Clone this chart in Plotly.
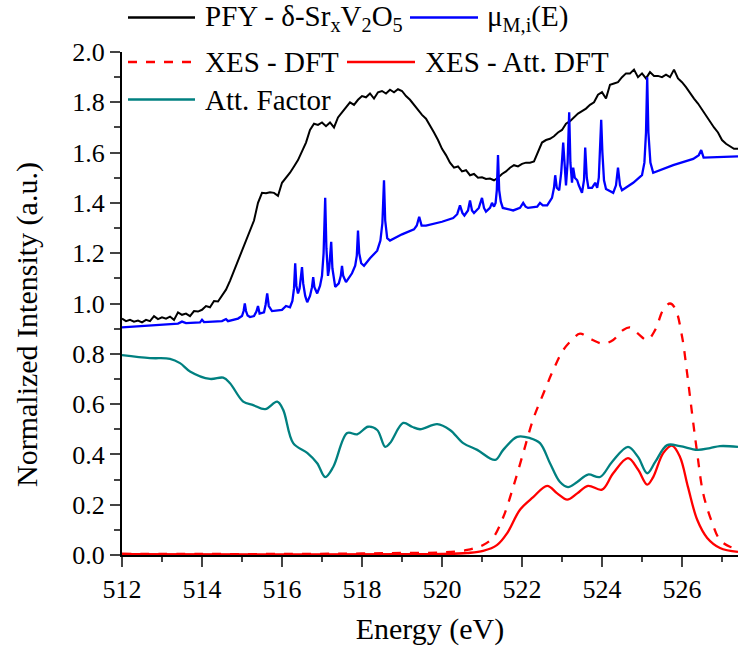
import plotly.graph_objects as go

# ---------------- data ----------------
pfy_e = [512.0, 512.1, 512.2, 512.3, 512.4, 512.5, 512.6, 512.7, 512.8, 512.9,
         513.0, 513.1, 513.2, 513.3, 513.4, 513.5, 513.6, 513.7, 513.8, 513.9,
         514.0, 514.1, 514.2, 514.3, 514.4, 514.5, 514.6, 514.7, 514.8, 514.9,
         515.0, 515.1, 515.2, 515.3, 515.4, 515.5, 515.6, 515.7, 515.8, 515.9,
         516.0, 516.1, 516.2, 516.3, 516.4, 516.5, 516.6, 516.7, 516.8, 516.9,
         517.0, 517.1, 517.2, 517.3, 517.4, 517.5, 517.6, 517.7, 517.8, 517.9,
         518.0, 518.1, 518.2, 518.3, 518.4, 518.5, 518.6, 518.7, 518.8, 518.9,
         519.0, 519.1, 519.2, 519.3, 519.4, 519.5, 519.6, 519.7, 519.8, 519.9,
         520.0, 520.1, 520.2, 520.3, 520.4, 520.5, 520.6, 520.7, 520.8, 520.9,
         521.0, 521.1, 521.2, 521.3, 521.4, 521.5, 521.6, 521.7, 521.8, 521.9,
         522.0, 522.1, 522.2, 522.3, 522.4, 522.5, 522.6, 522.7, 522.8, 522.9,
         523.0, 523.1, 523.2, 523.3, 523.4, 523.5, 523.6, 523.7, 523.8, 523.9,
         524.0, 524.1, 524.2, 524.3, 524.4, 524.5, 524.6, 524.7, 524.8, 524.9,
         525.0, 525.1, 525.2, 525.3, 525.4, 525.5, 525.6, 525.7, 525.8, 525.9,
         526.0, 526.1, 526.2, 526.3, 526.4, 526.5, 526.6, 526.7, 526.8, 526.9,
         527.0, 527.1, 527.2, 527.3, 527.4]
pfy_y = [0.940, 0.930, 0.935, 0.928, 0.932, 0.925, 0.935, 0.930, 0.950, 0.938,
         0.945, 0.940, 0.948, 0.935, 0.965, 0.955, 0.960, 0.950, 0.970, 0.968,
         0.975, 0.990, 0.985, 1.010, 1.008, 1.030, 1.055, 1.090, 1.130, 1.170,
         1.210, 1.250, 1.285, 1.330, 1.400, 1.440, 1.438, 1.442, 1.440, 1.428,
         1.480, 1.500, 1.520, 1.545, 1.570, 1.605, 1.640, 1.690, 1.715, 1.710,
         1.720, 1.705, 1.720, 1.700, 1.740, 1.760, 1.780, 1.800, 1.790, 1.810,
         1.825, 1.820, 1.835, 1.815, 1.840, 1.845, 1.835, 1.850, 1.840, 1.852,
         1.845, 1.825, 1.810, 1.790, 1.770, 1.750, 1.735, 1.710, 1.680, 1.650,
         1.615, 1.590, 1.560, 1.540, 1.545, 1.525, 1.530, 1.510, 1.515, 1.500,
         1.502, 1.495, 1.497, 1.490, 1.500, 1.515, 1.525, 1.540, 1.550, 1.545,
         1.555, 1.560, 1.560, 1.565, 1.600, 1.640, 1.650, 1.655, 1.665, 1.680,
         1.690, 1.715, 1.725, 1.740, 1.755, 1.765, 1.775, 1.790, 1.800, 1.830,
         1.840, 1.815, 1.870, 1.875, 1.880, 1.900, 1.915, 1.915, 1.930, 1.900,
         1.915, 1.895, 1.920, 1.905, 1.905, 1.900, 1.910, 1.900, 1.930, 1.895,
         1.880, 1.860, 1.835, 1.815, 1.795, 1.770, 1.745, 1.725, 1.700, 1.680,
         1.650, 1.635, 1.625, 1.615, 1.615]

mu_e = [512.00, 512.50, 513.00, 513.40, 513.50, 513.60, 513.95, 514.00, 514.05, 514.50,
        514.60, 514.65, 514.90, 515.00, 515.04, 515.07, 515.10, 515.14, 515.20, 515.30,
        515.36, 515.40, 515.44, 515.55, 515.59, 515.63, 515.67, 515.75, 516.00, 516.10,
        516.20, 516.26, 516.30, 516.33, 516.36, 516.40, 516.44, 516.47, 516.50, 516.53,
        516.58, 516.63, 516.70, 516.75, 516.78, 516.81, 516.88, 516.95, 517.00, 517.04,
        517.08, 517.11, 517.15, 517.18, 517.23, 517.26, 517.33, 517.42, 517.47, 517.50,
        517.53, 517.60, 517.75, 517.83, 517.87, 517.90, 517.93, 517.98, 518.05, 518.20,
        518.38, 518.46, 518.51, 518.55, 518.58, 518.63, 518.70, 519.00, 519.30, 519.37,
        519.43, 519.49, 519.60, 520.00, 520.28, 520.38, 520.45, 520.51, 520.56, 520.65,
        520.70, 520.75, 520.80, 520.92, 521.00, 521.05, 521.10, 521.20, 521.25, 521.30,
        521.34, 521.37, 521.40, 521.43, 521.47, 521.52, 521.78, 521.95, 522.03, 522.09,
        522.15, 522.38, 522.45, 522.52, 522.63, 522.75, 522.80, 522.83, 522.87, 522.93,
        522.98, 523.03, 523.07, 523.10, 523.14, 523.18, 523.21, 523.25, 523.28, 523.32,
        523.38, 523.42, 523.50, 523.55, 523.58, 523.62, 523.66, 523.75, 523.83, 523.88,
        523.92, 523.95, 523.98, 524.01, 524.05, 524.10, 524.28, 524.35, 524.40, 524.45,
        524.50, 524.78, 525.00, 525.06, 525.10, 525.13, 525.16, 525.21, 525.28, 525.78,
        526.28, 526.42, 526.48, 526.54, 527.00, 527.40]
mu_y = [0.905, 0.910, 0.915, 0.920, 0.928, 0.922, 0.925, 0.935, 0.926, 0.930,
        0.938, 0.930, 0.940, 0.950, 0.970, 1.000, 0.970, 0.952, 0.946, 0.950,
        0.968, 0.990, 0.960, 0.965, 0.995, 1.040, 0.990, 0.970, 0.975, 0.990,
        0.985, 1.010, 1.060, 1.160, 1.070, 1.040, 1.060, 1.095, 1.145, 1.080,
        1.030, 1.005, 1.030, 1.065, 1.105, 1.065, 1.040, 1.070, 1.110, 1.200,
        1.420, 1.220, 1.110, 1.140, 1.245, 1.140, 1.066, 1.080, 1.110, 1.150,
        1.110, 1.085, 1.120, 1.150, 1.190, 1.290, 1.200, 1.160, 1.150, 1.180,
        1.210, 1.250, 1.320, 1.490, 1.330, 1.260, 1.250, 1.275, 1.295, 1.310,
        1.345, 1.310, 1.310, 1.325, 1.340, 1.355, 1.390, 1.360, 1.350, 1.370,
        1.410, 1.370, 1.360, 1.380, 1.420, 1.380, 1.365, 1.380, 1.400, 1.385,
        1.400, 1.450, 1.590, 1.450, 1.405, 1.380, 1.370, 1.380, 1.400, 1.385,
        1.380, 1.385, 1.400, 1.390, 1.390, 1.420, 1.460, 1.510, 1.460, 1.450,
        1.520, 1.640, 1.520, 1.470, 1.560, 1.760, 1.560, 1.480, 1.540, 1.500,
        1.490, 1.470, 1.440, 1.490, 1.620, 1.500, 1.460, 1.460, 1.480, 1.460,
        1.500, 1.600, 1.730, 1.600, 1.490, 1.455, 1.440, 1.470, 1.540, 1.470,
        1.450, 1.480, 1.510, 1.560, 1.680, 1.900, 1.680, 1.560, 1.520, 1.550,
        1.575, 1.590, 1.610, 1.580, 1.582, 1.585]

xes_e = [512.0, 514.0, 516.0, 518.0, 519.0, 520.0, 520.63, 521.03, 521.28, 521.53,
         521.78, 522.03, 522.28, 522.53, 522.78, 523.03, 523.28, 523.45, 523.7, 524.03,
         524.28, 524.53, 524.7, 524.9, 525.13, 525.33, 525.53, 525.7, 525.83, 526.0,
         526.13, 526.25, 526.38, 526.53, 526.75, 526.95, 527.2, 527.4]
xes_y = [0.005, 0.004, 0.004, 0.006, 0.008, 0.010, 0.020, 0.040, 0.070, 0.150,
         0.270, 0.405, 0.540, 0.640, 0.735, 0.815, 0.860, 0.880, 0.860, 0.840,
         0.855, 0.895, 0.905, 0.880, 0.855, 0.895, 0.975, 1.000, 0.980, 0.870,
         0.720, 0.565, 0.405, 0.245, 0.130, 0.060, 0.033, 0.028]

att_xes_e = [512.0, 516.0, 519.0, 520.0, 520.63, 521.03, 521.38, 521.63, 521.95, 522.28,
             522.63, 522.88, 523.13, 523.38, 523.65, 524.0, 524.28, 524.65, 524.9, 525.13,
             525.28, 525.53, 525.75, 525.95, 526.15, 526.38, 526.63, 526.95, 527.4]
att_xes_y = [0.003, 0.002, 0.003, 0.004, 0.008, 0.016, 0.040, 0.087, 0.180, 0.230,
             0.275, 0.245, 0.220, 0.245, 0.275, 0.260, 0.325, 0.385, 0.340, 0.280,
             0.310, 0.405, 0.435, 0.390, 0.270, 0.140, 0.068, 0.028, 0.012]

att_e = [512.0, 512.7, 513.2, 513.45, 513.7, 514.2, 514.53, 514.7, 515.03, 515.28,
         515.58, 515.88, 516.03, 516.28, 516.63, 516.88, 517.08, 517.28, 517.63, 517.88,
         518.15, 518.38, 518.58, 518.7, 519.03, 519.25, 519.45, 519.88, 520.2, 520.53,
         520.88, 521.33, 521.53, 521.88, 522.2, 522.45, 522.7, 522.95, 523.15, 523.38,
         523.65, 523.95, 524.25, 524.65, 524.9, 525.13, 525.33, 525.63, 525.95, 526.38,
         526.7, 526.95, 527.4]
att_y = [0.795, 0.783, 0.780, 0.763, 0.730, 0.700, 0.705, 0.683, 0.610, 0.596,
         0.580, 0.610, 0.577, 0.445, 0.406, 0.365, 0.310, 0.350, 0.485, 0.480,
         0.510, 0.497, 0.430, 0.445, 0.525, 0.510, 0.500, 0.520, 0.497, 0.445,
         0.418, 0.378, 0.418, 0.470, 0.465, 0.445, 0.365, 0.290, 0.270, 0.290,
         0.320, 0.310, 0.370, 0.430, 0.390, 0.325, 0.370, 0.437, 0.433, 0.418,
         0.425, 0.433, 0.430]

x_tick_start, x_tick_step = 512, 2
y_tick_start, y_tick_step = 0.0, 0.2

names = ["PFY - &#948;-Sr<sub>x</sub>V<sub>2</sub>O<sub>5</sub>", "&#956;<sub>M,i</sub>(E)",
         "XES - DFT", "XES - Att. DFT", "Att. Factor"]

# ---------------- figure ----------------
FONT = "Liberation Serif"
C_BLACK, C_BLUE, C_RED, C_TEAL = "#000000", "#0000FF", "#FF0000", "#008080"

fig = go.Figure()
fig.add_trace(go.Scatter(x=pfy_e, y=pfy_y, mode="lines",
                         line=dict(color=C_BLACK, width=2)))
fig.add_trace(go.Scatter(x=mu_e, y=mu_y, mode="lines",
                         line=dict(color=C_BLUE, width=2.3)))
fig.add_trace(go.Scatter(x=xes_e, y=xes_y, mode="lines",
                         line=dict(color=C_RED, width=2.3, dash="dash", shape="spline", smoothing=1)))
fig.add_trace(go.Scatter(x=att_xes_e, y=att_xes_y, mode="lines",
                         line=dict(color=C_RED, width=2.3, shape="spline", smoothing=1)))
fig.add_trace(go.Scatter(x=att_e, y=att_y, mode="lines",
                         line=dict(color=C_TEAL, width=2.3, shape="spline", smoothing=1)))

L, R, T, B = 122, 0, 52, 91
W, H = 738, 646
PW, PH = W - L - R, H - T - B


def px(xpix):
    return (xpix - L) / PW


def py(ypix):
    return (H - B - ypix) / PH


legend_rows = [
    (128, 195, 17.5, C_BLACK, "solid", 203, names[0]),
    (410, 478, 17.5, C_BLUE, "solid", 485, names[1]),
    (128, 195, 62, C_RED, "dash", 203, names[2]),
    (347, 415, 62, C_RED, "solid", 423, names[3]),
    (128, 195, 99.5, C_TEAL, "solid", 203, names[4]),
]
for x0, x1, yy, col, dash, tx, label in legend_rows:
    fig.add_shape(type="line", xref="paper", yref="paper", x0=px(x0), x1=px(x1),
                  y0=py(yy), y1=py(yy), line=dict(color=col, width=2.3, dash=dash))
    fig.add_annotation(xref="paper", yref="paper", x=px(tx), y=py(yy), text=label,
                       showarrow=False, xanchor="left", yanchor="middle",
                       font=dict(family=FONT, size=29, color="black"))

fig.add_annotation(xref="paper", yref="paper", x=px(27), y=py(325),
                   text="Normalized Intensity (a.u.)", textangle=-90, showarrow=False,
                   xanchor="center", yanchor="middle",
                   font=dict(family=FONT, size=30, color="black"))

fig.update_layout(
    width=W, height=H, margin=dict(l=L, r=R, t=T, b=B),
    paper_bgcolor="white", plot_bgcolor="white",
    showlegend=False,
    font=dict(family=FONT, size=26, color="black"),
)
fig.update_xaxes(range=[512, 527.4], tickmode="linear", tick0=x_tick_start, dtick=x_tick_step,
                 ticks="outside", ticklen=10, tickwidth=2,
                 showline=True, linewidth=2, linecolor="black",
                 showgrid=False, zeroline=False,
                 tickfont=dict(family=FONT, size=26, color="black"),
                 minor=dict(dtick=1, ticks="outside", ticklen=5, tickwidth=2, showgrid=False),
                 title=dict(text="Energy (eV)", font=dict(family=FONT, size=30, color="black"),
                            standoff=18))
fig.update_yaxes(range=[0, 2.0], tickmode="linear", tick0=y_tick_start, dtick=y_tick_step,
                 tickformat=".1f", ticks="outside", ticklen=10, tickwidth=2,
                 showline=True, linewidth=2, linecolor="black",
                 showgrid=False, zeroline=False,
                 tickfont=dict(family=FONT, size=26, color="black"),
                 minor=dict(dtick=0.1, ticks="outside", ticklen=6, tickwidth=2, showgrid=False))

fig.write_html("out.html")
